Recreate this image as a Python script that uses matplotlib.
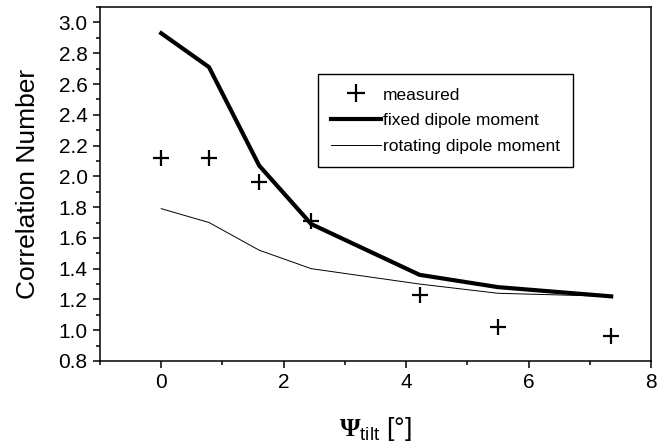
import matplotlib
matplotlib.use("Agg")
import matplotlib.pyplot as plt
from matplotlib.ticker import MultipleLocator

plt.rcParams['font.family'] = ['Liberation Sans', 'DejaVu Sans']
plt.rcParams['mathtext.fontset'] = 'custom'
plt.rcParams['mathtext.rm'] = 'Liberation Serif'
plt.rcParams['mathtext.bf'] = 'Liberation Serif:bold'
plt.rcParams['mathtext.sf'] = 'Liberation Sans'

tilt = [0, 0.78, 1.6, 2.45, 4.22, 5.5, 7.35]
measured = [2.12, 2.12, 1.96, 1.71, 1.23, 1.02, 0.96]
fixed = [2.93, 2.71, 2.07, 1.69, 1.36, 1.28, 1.22]
rotating = [1.79, 1.70, 1.52, 1.40, 1.30, 1.24, 1.22]

fig = plt.figure(figsize=(6.69, 4.44), dpi=100)
ax = fig.add_axes([0.1495, 0.187, 0.8235, 0.797])

ax.plot(tilt, measured, linestyle='none', marker='+', color='black',
        markersize=12, markeredgewidth=1.6, label='measured')
ax.plot(tilt, fixed, color='black', linewidth=3.0, label='fixed dipole moment')
ax.plot(tilt, rotating, color='black', linewidth=0.7, label='rotating dipole moment')

ax.set_xlim(-1, 8)
ax.set_ylim(0.8, 3.1)
ax.xaxis.set_major_locator(MultipleLocator(2))
ax.xaxis.set_minor_locator(MultipleLocator(1))
ax.yaxis.set_major_locator(MultipleLocator(0.2))
ax.yaxis.set_minor_locator(MultipleLocator(0.1))
ax.yaxis.set_major_formatter(matplotlib.ticker.FormatStrFormatter('%.1f'))

ax.tick_params(which='both', direction='out', top=False, right=False, width=1.1)
ax.tick_params(which='major', length=5, labelsize=15, pad=4)
ax.tick_params(which='minor', length=3)
for s in ax.spines.values():
    s.set_linewidth(1.1)

ax.set_ylabel('Correlation Number', fontsize=19, labelpad=13)
ax.set_xlabel(r'$\mathbf{\Psi}_{\mathsf{tilt}}$ [°]', fontsize=19, labelpad=16)

leg = ax.legend(loc='upper right', bbox_to_anchor=(0.858, 0.81), fontsize=12.5,
                frameon=True, fancybox=False, edgecolor='black', framealpha=1,
                handlelength=2.9, handletextpad=0.1, borderpad=0.75, labelspacing=0.6,
                borderaxespad=0, markerscale=1.1)
leg.get_frame().set_linewidth(1.0)

fig.savefig('out.png', dpi=100)
